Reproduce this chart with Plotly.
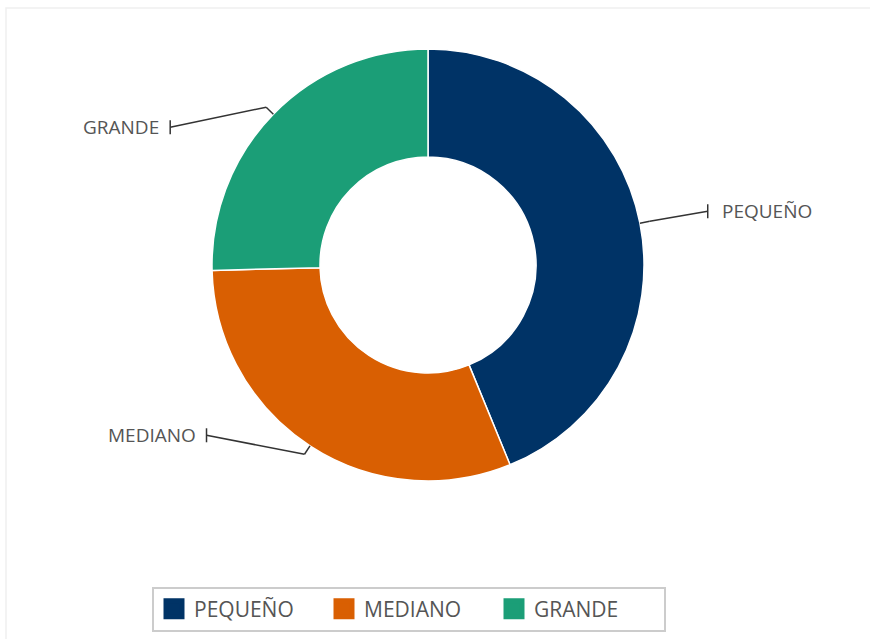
import math
import plotly.graph_objects as go

# Share of units by size class
categories = ["PEQUEÑO", "MEDIANO", "GRANDE"]
values = [43.8, 30.8, 25.4]
colors = ["#003366", "#d95f02", "#1b9e77"]

W, H = 870, 639
CX, CY, R = 428, 265, 216          # donut centre and outer radius (px)
HOLE = 0.5

# Leader-line geometry per slice: horizontal run / vertical shift from the elbow (px)
label_run = [58, -98, -96]
label_rise = [-10, -19, 20]
ELBOW = 10
BAR = 7


def px(x, y):
    return x / W, 1 - y / H


fig = go.Figure()

fig.add_trace(go.Pie(
    labels=categories,
    values=values,
    hole=HOLE,
    sort=False,
    direction="clockwise",
    rotation=0,
    textinfo="none",
    hoverinfo="label+percent",
    showlegend=False,
    marker=dict(colors=colors, line=dict(color="white", width=1.5)),
    domain=dict(x=[(CX - R) / W, (CX + R) / W],
                y=[1 - (CY + R) / H, 1 - (CY - R) / H]),
))

# Legend entries with larger square swatches
for name, c in zip(categories, colors):
    fig.add_trace(go.Scatter(
        x=[None], y=[None], mode="markers", name=name,
        marker=dict(symbol="square", size=16, color=c,
                    line=dict(color=c, width=6)),
        hoverinfo="skip",
    ))

shapes = [dict(type="rect", xref="paper", yref="paper",
               x0=6 / W, x1=1.01, y0=-0.01, y1=1 - 8 / H,
               line=dict(color="#f0f0f0", width=1.5), layer="below")]
annotations = []

total = sum(values)
cum = 0.0
for name, v, run, rise in zip(categories, values, label_run, label_rise):
    mid = (cum + v / 2) / total * 2 * math.pi
    cum += v
    dx, dy = math.sin(mid), -math.cos(mid)
    x0, y0 = CX + R * dx, CY + R * dy
    x1, y1 = CX + (R + ELBOW) * dx, CY + (R + ELBOW) * dy
    x2, y2 = x1 + run, y1 + rise
    for (a, b), (c, d) in [((x0, y0), (x1, y1)), ((x1, y1), (x2, y2)),
                           ((x2, y2 - BAR), (x2, y2 + BAR))]:
        pa, pb = px(a, b)
        pc, pd = px(c, d)
        shapes.append(dict(type="line", xref="paper", yref="paper",
                           x0=pa, y0=pb, x1=pc, y1=pd,
                           line=dict(color="#333333", width=1.5)))
    tx, ty = px(x2, y2)
    right = run > 0
    annotations.append(dict(
        x=tx, y=ty, xref="paper", yref="paper", text=name, showarrow=False,
        xanchor="left" if right else "right", yanchor="middle",
        xshift=12 if right else -9,
        font=dict(family="Open Sans", size=19, color="#555555"),
    ))

fig.update_layout(
    width=W, height=H,
    margin=dict(l=0, r=0, t=0, b=0),
    paper_bgcolor="white",
    plot_bgcolor="white",
    font=dict(family="Open Sans", color="#555555"),
    xaxis=dict(visible=False),
    yaxis=dict(visible=False),
    shapes=shapes,
    annotations=annotations,
    legend=dict(
        orientation="h",
        x=409 / W, xanchor="center",
        y=1 - 609 / H, yanchor="middle",
        font=dict(family="Open Sans", size=21, color="#555555"),
        bordercolor="#cccccc", borderwidth=2,
        bgcolor="white",
        entrywidth=125, entrywidthmode="pixels",
        itemclick=False,
    ),
)

fig.write_html("out.html")
